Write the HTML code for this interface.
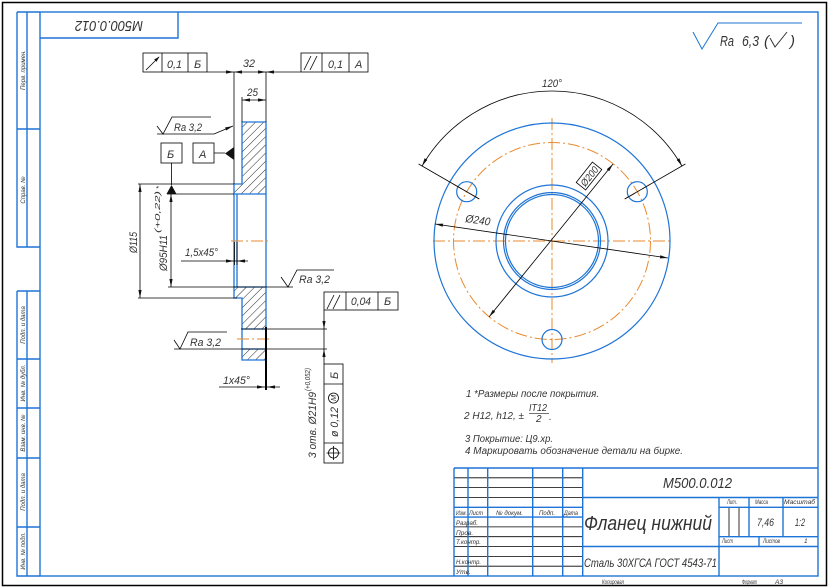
<!DOCTYPE html>
<html><head><meta charset="utf-8"><style>
html,body{margin:0;padding:0;background:#fff;}
svg{display:block;}
text{font-family:"Liberation Sans","DejaVu Sans",sans-serif;font-style:italic;fill:#333;}
</style></head><body>
<svg width="830" height="588" viewBox="0 0 830 588" xmlns="http://www.w3.org/2000/svg">
<defs>
<pattern id="h" width="5.8" height="5.8" patternUnits="userSpaceOnUse" patternTransform="rotate(45)">
<line x1="0" y1="0" x2="0" y2="5.8" stroke="#111" stroke-width="0.9"/>
</pattern>
</defs>
<rect x="0" y="0" width="830" height="588" fill="#fff"/>
<rect x="2.5" y="2.5" width="824" height="583" fill="none" stroke="#000" stroke-width="1.5"/>

<!-- blue frame & side strips -->
<g stroke="#1e74d6" stroke-width="1.4" fill="none">
<rect x="40" y="12" width="778" height="564"/>
<path d="M17 12 H40 M17 12 V247 H40 M27 12 V247 M17 129 H40"/>
<path d="M17 291 H40 M17 291 V576 H40 M27 291 V576 M17 359 H40 M17 408 H40 M17 458 H40 M17 527 H40"/>
<path d="M40 38 H178 V12"/>
</g>
<g font-size="6" text-anchor="middle">
<text transform="translate(25,70) rotate(-90)">Перв. примен.</text>
<text transform="translate(25,190) rotate(-90)">Справ. №</text>
<text transform="translate(25,325) rotate(-90)">Подп. и дата</text>
<text transform="translate(25,383) rotate(-90)">Инв. № дубл.</text>
<text transform="translate(25,433) rotate(-90)">Взам. инв. №</text>
<text transform="translate(25,492) rotate(-90)">Подп. и дата</text>
<text transform="translate(25,551) rotate(-90)">Инв. № подл.</text>
</g>
<text transform="rotate(180 109 26)" x="75" y="31" font-size="15" textLength="68" lengthAdjust="spacingAndGlyphs">M500.0.012</text>

<!-- title block -->
<g stroke="#000" stroke-width="0.8" fill="none">
<path d="M454 477.8 H582.7 M454 487.6 H582.7 M454 497.5 H582.7 M454 526.9 H582.7 M454 536.7 H582.7 M454 546.5 H582.7 M454 556.4 H582.7 M454 566.2 H582.7"/>
<path d="M729 507.3 V536.7 M739 507.3 V536.7"/>
</g>
<g stroke="#1e74d6" stroke-width="1.4" fill="none">
<path d="M454 468 H818 M454 468 V576 M468 468 V576 M487.7 468 V576 M532.7 468 V576 M562.7 468 V576 M582.7 468 V576"/>
<path d="M454 507.3 H582.7 M454 517.1 H582.7"/>
<path d="M582.7 497.5 H818 M582.7 546.5 H818 M719 497.5 V576 M749 497.5 V536.7 M783 497.5 V536.7 M719 507.3 H818 M719 536.7 H818 M759 536.7 V546.5"/>
</g>
<text x="663" y="488" font-size="15" textLength="69" lengthAdjust="spacingAndGlyphs">M500.0.012</text>
<text x="584" y="530" font-size="20" textLength="128" lengthAdjust="spacingAndGlyphs">Фланец нижний</text>
<text x="584" y="567" font-size="12" textLength="133" lengthAdjust="spacingAndGlyphs">Сталь 30ХГСА ГОСТ 4543-71</text>
<g font-size="6.5">
<text x="727" y="504" textLength="10" lengthAdjust="spacingAndGlyphs">Лит.</text>
<text x="755" y="504" textLength="13" lengthAdjust="spacingAndGlyphs">Масса</text>
<text x="784" y="504" textLength="31" lengthAdjust="spacingAndGlyphs">Масштаб</text>
<text x="722" y="543" textLength="11" lengthAdjust="spacingAndGlyphs">Лист</text>
<text x="763" y="543" textLength="17" lengthAdjust="spacingAndGlyphs">Листов</text>
<text x="804" y="543">1</text>
<text x="602" y="584" textLength="22" lengthAdjust="spacingAndGlyphs">Копировал</text>
<text x="742" y="584" textLength="15" lengthAdjust="spacingAndGlyphs">Формат</text>
<text x="775" y="584">A3</text>
<text x="456" y="515" textLength="11" lengthAdjust="spacingAndGlyphs">Изм.</text>
<text x="469" y="515" textLength="14" lengthAdjust="spacingAndGlyphs">Лист</text>
<text x="496" y="515" textLength="27" lengthAdjust="spacingAndGlyphs">№ докум.</text>
<text x="539" y="515" textLength="16" lengthAdjust="spacingAndGlyphs">Подп.</text>
<text x="564" y="515" textLength="14" lengthAdjust="spacingAndGlyphs">Дата</text>
<text x="456" y="525" textLength="22" lengthAdjust="spacingAndGlyphs">Разраб.</text>
<text x="456" y="535">Пров.</text>
<text x="456" y="544" textLength="25" lengthAdjust="spacingAndGlyphs">Т.контр.</text>
<text x="456" y="564" textLength="25" lengthAdjust="spacingAndGlyphs">Н.контр.</text>
<text x="456" y="574">Утв.</text>
</g>
<text x="757" y="526" font-size="11" textLength="17" lengthAdjust="spacingAndGlyphs">7,46</text>
<text x="795" y="526" font-size="11" textLength="10" lengthAdjust="spacingAndGlyphs">1:2</text>

<!-- notes -->
<g font-size="10" fill="#444">
<text x="466" y="397" textLength="133" lengthAdjust="spacingAndGlyphs">1  *Размеры после покрытия.</text>
<text x="464" y="419" textLength="60" lengthAdjust="spacingAndGlyphs">2  H12, h12, ±</text>
<text x="529" y="411" textLength="18" lengthAdjust="spacingAndGlyphs">IT12</text>
<text x="536" y="422">2</text>
<text x="549" y="420">.</text>
<text x="465" y="442" textLength="88" lengthAdjust="spacingAndGlyphs">3  Покрытие: Ц9.хр.</text>
<text x="465" y="454" textLength="218" lengthAdjust="spacingAndGlyphs">4  Маркировать обозначение детали на бирке.</text>
</g>
<path d="M529 413.5 H549" stroke="#444" stroke-width="0.8"/>

<!-- Ra 6,3 -->
<path d="M693 32 L702 49 L718 23 H802" stroke="#1e74d6" stroke-width="1" fill="none"/>
<g font-size="15">
<text x="720" y="46" textLength="14" lengthAdjust="spacingAndGlyphs">Ra</text>
<text x="742" y="46" textLength="17" lengthAdjust="spacingAndGlyphs">6,3</text>
<text x="764" y="46">(</text>
<text x="790" y="46">)</text>
</g>
<path d="M770 38 L775 47 L787 32" stroke="#333" stroke-width="1" fill="none"/>

<!-- ===== Section view ===== -->
<g fill="url(#h)" stroke="#1e74d6" stroke-width="1.3">
<polygon points="242,122 266,122 266,194 234,194 234,184 242,184"/>
<polygon points="234,287 266,287 266,329 242,329 242,298 234,298"/>
<polygon points="242,349 266,349 266,360 242,360"/>
</g>
<g stroke="#1e74d6" stroke-width="1.3" fill="none">
<path d="M234 194 V287 M237 194 V287 M266 194 V287 M242 329 V349 M266 329 V349"/>
</g>
<g stroke="#e98a2e" stroke-width="1" fill="none" stroke-dasharray="12 3 2 3">
<path d="M231 241 H271"/>
<path d="M237 339 H271"/>
</g>

<g stroke="#000" stroke-width="0.8" fill="none">
<!-- top dims -->
<path d="M207 72 H301"/>
<path d="M234 72 V184"/>
<path d="M266 72 V122"/>
<path d="M242 97 V122"/>
<path d="M242 100 H266"/>
<!-- frames -->
<rect x="143" y="53" width="64" height="19"/>
<path d="M162 53 V72 M188 53 V72"/>
<rect x="301" y="53" width="67" height="19"/>
<path d="M322 53 V72 M349 53 V72"/>
<path d="M146 70 L159 57"/>
<path d="M304 70 L311 56 M310 70 L317 56"/>
<!-- datum boxes -->
<rect x="161" y="143" width="21" height="20"/>
<rect x="193" y="143" width="21" height="20"/>
<path d="M171.5 163 V185 M214 153 H225"/>
<!-- Ra upper -->
<path d="M157 126 L163 134 L172 117 H211"/>
<path d="M157 134 H214 L233 126"/>
<!-- ext lines -->
<path d="M138 184 H234 M167 194 H234 M138 298 H237 M168 287 H293"/>
<path d="M140 184 V298 M171 194 V287"/>
<!-- Ra middle -->
<path d="M281 277 L288 287 L297 270 H334"/>
<!-- 1.5x45 -->
<path d="M234.5 242 V265 M237 242 V265 M181 261 H248"/>
<!-- hole ext -->
<path d="M241 329 H327 M174 349 H327 M324 310 V364"/>
<!-- Ra lower -->
<path d="M174 340 L180 349 L188 332 H227"/>
<!-- 1x45 -->
<path d="M219 387 H280"/>
<!-- lower frames -->
<rect x="324" y="292" width="74" height="18"/>
<path d="M346 292 V310 M378 292 V310 M327 309 L334 295 M333 309 L340 295"/>
<rect x="324" y="364" width="19" height="99"/>
<path d="M324 384 H343 M324 443 H343"/>
<circle cx="333.5" cy="453" r="5"/>
<path d="M326.5 453 H340.5 M333.5 446 V460"/>
<circle cx="333.5" cy="398" r="5"/>
</g>
<path d="M266 327 V390" stroke="#000" stroke-width="2"/>

<g fill="#111" stroke="none">
<polygon points="234,72 226,70.4 226,73.6"/>
<polygon points="234,72 242,70.4 242,73.6"/>
<polygon points="266,72 258,70.4 258,73.6"/>
<polygon points="266,72 274,70.4 274,73.6"/>
<polygon points="242,100 250,98.4 250,101.6"/>
<polygon points="266,100 258,98.4 258,101.6"/>
<polygon points="159.5,56.5 154.2,59.5 156.5,61.8"/>
<polygon points="233,126 226.2,130.5 225,127.5"/>
<polygon points="234,147 234,160 225,153.5"/>
<polygon points="171.5,185 166.5,194 176.5,194"/>
<polygon points="140,184 138.4,192 141.6,192"/>
<polygon points="140,298 138.4,290 141.6,290"/>
<polygon points="171,194 169.4,202 172.6,202"/>
<polygon points="171,287 169.4,279 172.6,279"/>
<polygon points="234,261 226,259.4 226,262.6"/>
<polygon points="237,261 245,259.4 245,262.6"/>
<polygon points="324,329 322.4,321 325.6,321"/>
<polygon points="324,349 322.4,357 325.6,357"/>
<polygon points="265,387 257,385.4 257,388.6"/>
<polygon points="267,387 275,385.4 275,388.6"/>
</g>

<g font-size="11">
<text x="167" y="68" textLength="15" lengthAdjust="spacingAndGlyphs">0,1</text>
<text x="194" y="68">Б</text>
<text x="328" y="68" textLength="15" lengthAdjust="spacingAndGlyphs">0,1</text>
<text x="355" y="68">A</text>
<text x="167" y="158">Б</text>
<text x="199" y="158">A</text>
<text x="243" y="67" textLength="12" lengthAdjust="spacingAndGlyphs">32</text>
<text x="247" y="96" textLength="11" lengthAdjust="spacingAndGlyphs">25</text>
<text x="174" y="131" textLength="28" lengthAdjust="spacingAndGlyphs">Ra 3,2</text>
<text x="299" y="283" textLength="31" lengthAdjust="spacingAndGlyphs">Ra 3,2</text>
<text x="190" y="346" textLength="31" lengthAdjust="spacingAndGlyphs">Ra 3,2</text>
<text x="185" y="256" textLength="33" lengthAdjust="spacingAndGlyphs">1,5x45°</text>
<text x="223" y="384" textLength="27" lengthAdjust="spacingAndGlyphs">1x45°</text>
<text x="351" y="305" textLength="20" lengthAdjust="spacingAndGlyphs">0,04</text>
<text x="384" y="305">Б</text>
<text transform="translate(137,253) rotate(-90)" textLength="21" lengthAdjust="spacingAndGlyphs">Ø115</text>
<text transform="translate(167,271) rotate(-90)" textLength="36" lengthAdjust="spacingAndGlyphs">Ø95H11</text>
<text transform="translate(316,458) rotate(-90)" textLength="66" lengthAdjust="spacingAndGlyphs">3 отв. Ø21H9</text>
<text transform="translate(338,379) rotate(-90)">Б</text>
<text transform="translate(338,437) rotate(-90)" textLength="30" lengthAdjust="spacingAndGlyphs">ø 0,12</text>
</g>
<g font-size="7.5">
<text transform="translate(160,233) rotate(-90)" textLength="42" lengthAdjust="spacingAndGlyphs">(+0,22)</text>
<text transform="translate(161,189) rotate(-90)">*</text>
<text transform="translate(310,391) rotate(-90)" textLength="23" lengthAdjust="spacingAndGlyphs">(+0,052)</text>
<text transform="translate(336,401) rotate(-90)">M</text>
</g>

<!-- ===== Circle view ===== -->
<g stroke="#e98a2e" stroke-width="1" fill="none" stroke-dasharray="12 3 2 3">
<circle cx="552" cy="241" r="98.5"/>
<path d="M433 241 H673"/>
<path d="M552 118 V363"/>
<path d="M479.3 199 L453.3 184"/>
<path d="M624.7 199 L650.7 184"/>
</g>
<g stroke="#1e74d6" stroke-width="1.2" fill="none">
<circle cx="552" cy="241" r="118"/>
<circle cx="552" cy="241" r="56"/>
<circle cx="552" cy="241" r="48.5"/>
<circle cx="552" cy="241" r="46.5"/>
<circle cx="466.7" cy="191.7" r="10"/>
<circle cx="637.3" cy="191.7" r="10"/>
<circle cx="552" cy="339.5" r="10"/>
</g>
<g stroke="#000" stroke-width="0.8" fill="none">
<path d="M422.1 166 A150 150 0 0 1 681.9 166"/>
<path d="M479.3 199 L418.6 164 M624.7 199 L685.4 164"/>
<path d="M435 224 L668 258"/>
<path d="M489 317 L613 164"/>
</g>
<g fill="#111">
<polygon points="422,166 424.6,158.3 427.4,159.9"/>
<polygon points="682,166 676.6,159.9 679.4,158.3"/>
<polygon points="435,224 443.1,223.6 442.7,226.8"/>
<polygon points="668,258 659.9,258.4 660.3,255.2"/>
<polygon points="613,164 609.2,171.2 606.8,169.2"/>
<polygon points="489,317 492.8,309.8 495.2,311.8"/>
</g>
<text x="542" y="87" font-size="11" textLength="20" lengthAdjust="spacingAndGlyphs">120°</text>
<text transform="translate(465,222) rotate(8.3)" font-size="11" textLength="25" lengthAdjust="spacingAndGlyphs">Ø240</text>
<g transform="translate(589,176) rotate(-51.6)">
<rect x="-13" y="-6" width="26" height="12" fill="#fff" stroke="#000" stroke-width="0.8"/>
<text x="-11" y="4" font-size="10" textLength="22" lengthAdjust="spacingAndGlyphs">Ø200</text>
</g>
</svg>
</body></html>
